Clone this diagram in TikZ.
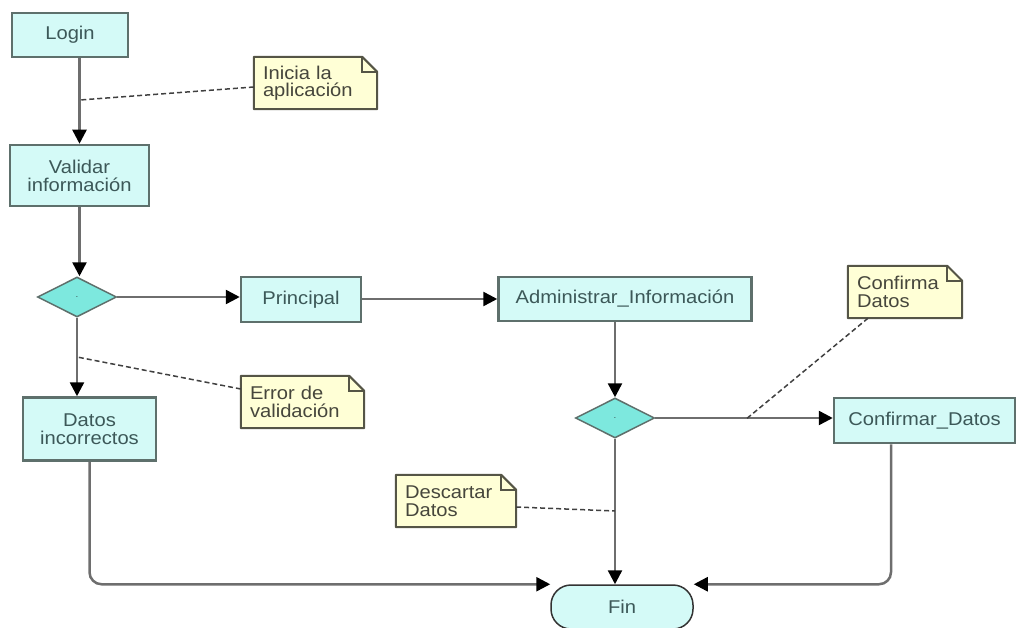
\documentclass[tikz,border=0pt]{standalone}
\usepackage{fontspec}
\setmainfont{Liberation Sans}[FakeStretch=1.09]
\usetikzlibrary{shapes.geometric, arrows.meta, backgrounds}

\definecolor{cajafondo}{RGB}{212,250,247}
\definecolor{cajaborde}{RGB}{94,112,108}
\definecolor{rombofondo}{RGB}{125,232,222}
\definecolor{notafondo}{RGB}{255,255,214}
\definecolor{notaborde}{RGB}{85,85,70}
\definecolor{notatexto}{RGB}{70,70,60}
\definecolor{texto}{RGB}{60,88,88}
\definecolor{linea}{RGB}{110,110,110}

\tikzset{
	actividad/.style={rectangle, draw=cajaborde, fill=cajafondo, line width=2.5pt, align=center,
		text=texto, font=\fontsize{18.5}{18}\selectfont, inner sep=0pt},
	decision/.style={diamond, draw=cajaborde, fill=rombofondo, line width=1.5pt, minimum width=79pt,
		minimum height=40pt, inner sep=0pt, text=texto, font=\fontsize{9}{9}\selectfont},
	nota/.style={text width=#1, inner xsep=9pt, inner ysep=4pt, minimum height=52pt, align=left,
		text=notatexto, font=\fontsize{18.5}{17.5}\selectfont},
	fin/.style={rectangle, rounded corners=20pt, draw=black!80, fill=cajafondo, line width=1.5pt,
		text=texto, font=\fontsize{18.5}{18}\selectfont, minimum width=142pt, minimum height=44pt},
	flujo/.style={draw=linea, line width=2.5pt, -{Triangle[length=14pt, width=14pt, color=black]}},
	enlace/.style={draw=black!75, line width=1.5pt, dash pattern=on 5pt off 3pt}
}

\begin{document}
\begin{tikzpicture}[x=1pt, y=-1pt]
	\useasboundingbox (0,0) rectangle (1016,628);

	% Actividades
	\node[actividad, minimum width=116pt, minimum height=44pt] (login) at (70,35) {Login};
	\node[actividad, minimum width=139pt, minimum height=61pt] (validar) at (79.5,175.5) {Validar\\informaci\'on};
	\node[decision] (dec1) at (77,297) {.};
	\node[actividad, minimum width=133pt, minimum height=63pt] (datos) at (89.5,429) {Datos\\incorrectos};
	\node[actividad, minimum width=120pt, minimum height=45pt] (principal) at (301,299.5) {Principal};
	\node[actividad, minimum width=253pt, minimum height=44pt] (admin) at (625,299) {Administrar\_Informaci\'on};
	\node[decision] (dec2) at (615,418) {.};
	\node[actividad, minimum width=181pt, minimum height=45pt] (confirmar) at (924.5,420.5) {Confirmar\_Datos};
	\node[fin] (final) at (622,607) {Fin};

	% Notas
	\node[nota=105pt] (inicia) at (315.5,83) {Inicia la\\aplicaci\'on};
	\node[nota=105pt] (error) at (302.5,402) {Error de\\validaci\'on};
	\node[nota=96pt] (confirma) at (905,292) {Confirma\\Datos};
	\node[nota=102pt] (descartar) at (456,501) {Descartar\\Datos};

	\begin{scope}[on background layer]
		\foreach \n in {inicia, error, confirma, descartar} {
			\filldraw[fill=notafondo, draw=notaborde, line width=2pt, line join=round]
				(\n.north west) -- ([xshift=-15pt]\n.north east) -- ([yshift=-15pt]\n.north east)
				-- (\n.south east) -- (\n.south west) -- cycle;
			\draw[notaborde, line width=1.5pt] ([xshift=-15pt]\n.north east) |- ([yshift=-15pt]\n.north east);
		}
	\end{scope}

	% Flujo
	\draw[flujo] (validar.north |- login.south) -- (validar.north);
	\draw[flujo] (validar.south) -- (validar.south |- dec1.north);
	\draw[flujo] (dec1.east) -- (dec1.east -| principal.west);
	\draw[flujo] (dec1.south) -- (dec1.south |- datos.north);
	\draw[flujo] (principal.east |- admin.west) -- (admin.west);
	\draw[flujo] (admin.south -| dec2.north) -- (dec2.north);
	\draw[flujo] (dec2.east) -- (dec2.east -| confirmar.west);
	\draw[flujo] (dec2.south) -- (dec2.south |- final.north);
	\draw[flujo, rounded corners=12pt] (datos.south) |- (final.north west);
	\draw[flujo, rounded corners=12pt] ([xshift=-33.5pt]confirmar.south) |- (final.north east);

	% Enlaces de las notas
	\coordinate (pinicia) at (80,100);
	\coordinate (perror) at (77,357);
	\coordinate (pconfirma) at (745,420);
	\coordinate (pdescartar) at (615,511);
	\draw[enlace] ([yshift=-4pt]inicia.west) -- (pinicia);
	\draw[enlace] ([yshift=13pt]error.west) -- (perror);
	\draw[enlace] ([xshift=-37pt]confirma.south) -- (pconfirma);
	\draw[enlace] ([yshift=-6pt]descartar.east) -- (pdescartar);

\end{tikzpicture}
\end{document}
